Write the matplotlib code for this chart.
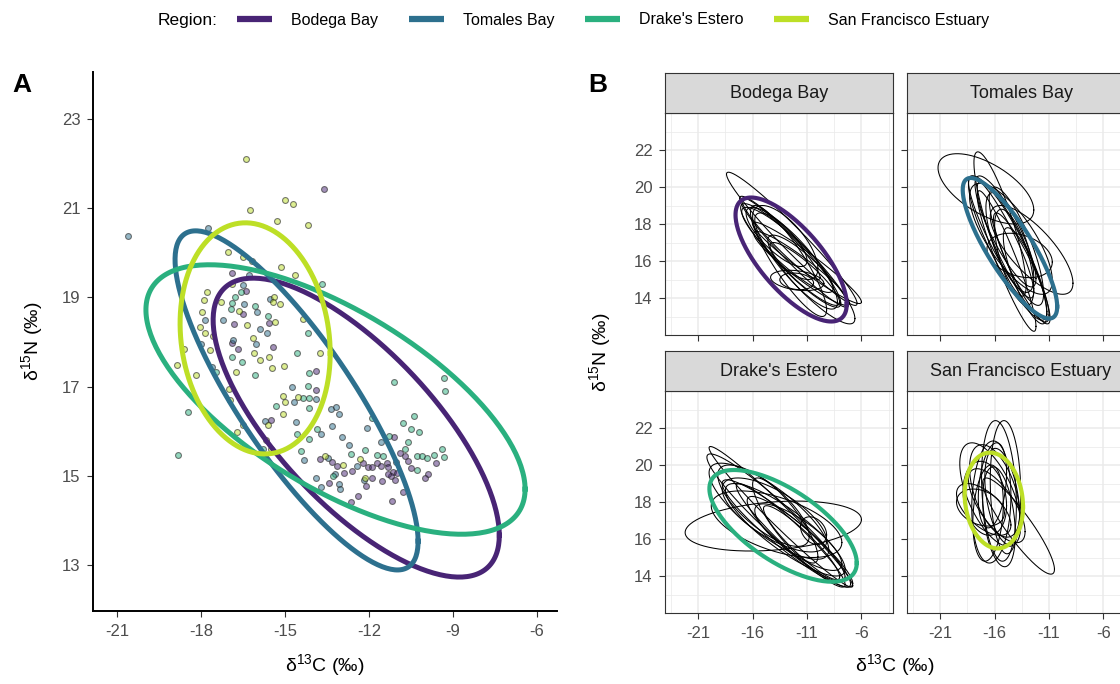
import numpy as np
import matplotlib
matplotlib.use("Agg")
import matplotlib.pyplot as plt
from matplotlib.lines import Line2D

plt.rcParams["font.family"] = ["Liberation Sans", "DejaVu Sans"]
plt.rcParams["mathtext.fontset"] = "custom"
plt.rcParams["mathtext.rm"] = "Liberation Sans"
plt.rcParams["mathtext.it"] = "Liberation Sans:italic"
plt.rcParams["axes.unicode_minus"] = False

regions = ["Bodega Bay", "Tomales Bay", "Drake's Estero", "San Francisco Estuary"]
colors = plt.cm.viridis(np.linspace(0.1, 0.9, 4))

# standard ellipses per region: centre, half-range in x and y, correlation
sea_cx = [-12.46, -14.59, -13.20, -16.07]
sea_cy = [16.08, 16.69, 16.71, 18.08]
sea_rx = [5.11, 4.34, 6.77, 2.68]
sea_ry = [3.35, 3.80, 3.02, 2.59]
sea_rho = [-0.72, -0.83, -0.665, -0.13]

# individual isotope values (d13C, d15N)
bodega_pts = [(-16.89, 19.55), (-16.39, 19.14), (-16.5, 18.63), (-16.82, 18.40), (-15.57, 18.43),
              (-16.89, 17.98), (-15.43, 17.89), (-16.68, 17.84), (-15.5, 16.25), (-13.61, 21.43),
              (-13.89, 17.35), (-13.89, 16.92), (-11.11, 15.87), (-13.75, 15.38), (-13.32, 15.31),
              (-13.14, 15.22), (-12.21, 15.29), (-12.04, 15.20), (-11.89, 15.20), (-11.71, 15.29),
              (-11.57, 15.22), (-11.36, 15.29), (-11.32, 15.20), (-10.61, 15.33), (-10.71, 15.44),
              (-9.61, 15.29), (-10.5, 15.17), (-9.89, 15.04), (-10.0, 14.95), (-11.14, 15.09),
              (-11.0, 15.06), (-11.21, 15.0), (-11.32, 15.04), (-11.07, 14.91), (-11.54, 14.88),
              (-11.89, 14.95), (-12.11, 14.77), (-12.89, 15.06), (-13.43, 14.84), (-12.64, 14.41),
              (-11.18, 14.43), (-10.79, 14.64), (-12.4, 14.55), (-10.9, 15.5), (-12.6, 15.1)]
tomales_pts = [(-20.61, 20.38), (-17.75, 20.56), (-16.5, 19.28), (-16.46, 18.85), (-15.54, 18.96),
               (-16.0, 18.67), (-17.86, 18.49), (-17.21, 18.49), (-18.0, 17.96), (-16.86, 18.04),
               (-16.04, 17.96), (-15.64, 18.20), (-17.61, 17.44), (-15.71, 16.23), (-14.75, 16.99),
               (-14.68, 16.65), (-13.89, 16.72), (-13.36, 16.50), (-13.18, 16.54), (-13.07, 16.39),
               (-14.61, 16.21), (-13.32, 16.12), (-12.07, 16.07), (-13.71, 15.94), (-12.96, 15.87),
               (-11.57, 15.76), (-12.71, 15.69), (-14.32, 15.35), (-13.46, 15.40), (-12.43, 15.22),
               (-11.04, 15.31), (-13.21, 15.04), (-13.07, 14.82), (-13.04, 14.70), (-13.89, 14.95),
               (-13.71, 14.75), (-16.3, 19.5), (-15.9, 18.3), (-12.2, 14.9)]
drakes_pts = [(-16.57, 19.12), (-16.79, 19.01), (-16.89, 18.87), (-16.07, 18.81), (-16.93, 18.74),
              (-15.61, 18.58), (-13.68, 19.30), (-16.89, 17.66), (-16.54, 17.55), (-17.46, 17.33),
              (-16.07, 17.26), (-18.46, 16.43), (-15.32, 16.56), (-15.79, 15.60), (-18.82, 15.47),
              (-14.18, 18.20), (-14.57, 17.75), (-14.14, 17.30), (-14.18, 17.01), (-14.36, 16.74),
              (-14.14, 16.74), (-14.14, 16.52), (-13.86, 16.05), (-14.57, 15.94), (-14.14, 15.83),
              (-11.11, 17.10), (-9.32, 17.19), (-9.29, 16.90), (-10.79, 16.18), (-10.39, 16.34),
              (-10.5, 16.05), (-10.21, 15.98), (-10.61, 15.76), (-10.71, 15.60), (-12.14, 15.58),
              (-14.43, 15.56), (-12.64, 15.49), (-11.71, 15.47), (-11.5, 15.44), (-10.29, 15.44),
              (-10.11, 15.44), (-9.93, 15.40), (-9.68, 15.47), (-9.39, 15.60), (-9.32, 15.42),
              (-10.29, 15.13), (-13.29, 15.0), (-11.9, 16.3), (-11.3, 15.9)]
sfe_pts = [(-16.39, 22.10), (-15.0, 21.18), (-16.25, 20.96), (-15.29, 20.71), (-17.04, 20.02),
           (-16.5, 19.9), (-16.18, 19.82), (-15.14, 19.68), (-17.79, 19.12), (-17.89, 18.94),
           (-15.39, 19.01), (-15.43, 18.9), (-15.18, 18.85), (-17.96, 18.67), (-16.64, 18.69),
           (-16.36, 18.38), (-15.36, 18.45), (-18.04, 18.34), (-14.71, 21.09), (-14.18, 20.62),
           (-14.64, 19.50), (-14.36, 18.52), (-17.86, 18.20), (-17.57, 18.13), (-18.61, 17.84),
           (-17.68, 17.82), (-16.14, 18.09), (-16.11, 17.75), (-15.89, 17.60), (-15.57, 17.66),
           (-15.04, 17.46), (-15.46, 17.42), (-18.86, 17.48), (-18.18, 17.26), (-16.75, 17.33),
           (-17.0, 16.95), (-16.96, 16.70), (-15.07, 16.79), (-15.0, 16.65), (-15.07, 16.39),
           (-15.61, 16.14), (-16.5, 16.14), (-16.71, 15.98), (-15.68, 15.80), (-15.5, 15.60),
           (-13.75, 17.75), (-14.54, 16.77), (-13.57, 15.44), (-12.93, 15.24), (-12.32, 15.38),
           (-12.14, 14.95), (-17.3, 18.9), (-16.9, 19.3)]

# posterior ellipse draws: (cx, cy, rx, ry, rho)
bodega_draws = [(-12.4, 17.2, 6.0, 3.6, -0.97), (-11.0, 15.9, 5.0, 2.2, -0.96),
                (-12.5, 16.3, 4.6, 2.8, -0.92), (-11.9, 14.95, 2.45, 0.55, -0.3),
                (-11.95, 14.9, 1.55, 0.45, -0.2), (-12.8, 16.6, 4.2, 2.3, -0.9),
                (-10.6, 15.0, 4.0, 2.4, -0.88), (-13.4, 17.2, 3.6, 2.2, -0.95),
                (-12.0, 16.0, 3.8, 2.6, -0.86), (-13.0, 17.0, 3.0, 2.0, -0.7),
                (-11.5, 15.6, 4.4, 2.0, -0.94), (-12.2, 16.5, 5.0, 3.0, -0.96),
                (-13.8, 17.3, 2.8, 1.6, -0.8), (-11.2, 15.3, 3.2, 1.7, -0.9),
                (-12.7, 16.0, 3.5, 3.0, -0.88)]
tomales_draws = [(-16.8, 19.9, 4.4, 1.9, -0.6), (-15.5, 18.0, 2.4, 3.9, -0.85),
                 (-12.6, 16.6, 3.8, 2.4, -0.75), (-14.3, 16.5, 3.3, 3.8, -0.9),
                 (-14.0, 16.8, 2.5, 3.2, -0.8), (-14.6, 17.0, 2.2, 2.7, -0.7),
                 (-13.7, 16.3, 3.0, 1.2, -0.3), (-14.8, 16.7, 3.6, 3.9, -0.88),
                 (-15.0, 17.6, 2.8, 3.0, -0.85), (-13.5, 15.6, 2.6, 3.0, -0.9),
                 (-14.2, 16.2, 1.8, 2.6, -0.65), (-15.4, 17.3, 3.0, 3.3, -0.9),
                 (-13.2, 15.2, 2.0, 2.6, -0.8), (-14.5, 17.2, 3.8, 3.0, -0.75),
                 (-14.9, 16.0, 2.7, 3.8, -0.93)]
drakes_draws = [(-14.1, 16.7, 8.1, 1.35, 0.26), (-13.4, 17.2, 6.6, 3.8, -0.98),
                (-13.6, 17.0, 6.6, 3.6, -0.95), (-10.4, 16.45, 1.2, 0.75, -0.3),
                (-13.0, 16.5, 5.5, 2.5, -0.85), (-12.0, 16.0, 4.5, 2.3, -0.9),
                (-14.0, 17.3, 4.8, 2.0, -0.7), (-12.5, 16.2, 5.0, 2.8, -0.95),
                (-14.5, 17.5, 5.5, 2.6, -0.8), (-11.5, 15.8, 3.5, 2.0, -0.92),
                (-13.0, 17.0, 3.0, 2.3, -0.85), (-12.8, 16.3, 6.0, 2.9, -0.93),
                (-15.0, 17.8, 4.2, 2.2, -0.75), (-11.8, 16.1, 4.0, 1.8, -0.8),
                (-13.8, 16.8, 6.0, 1.8, -0.55)]
sfe_draws = [(-15.6, 18.6, 1.6, 3.8, -0.2), (-15.0, 18.8, 1.4, 3.6, -0.1),
             (-13.8, 16.7, 3.3, 2.6, -0.9), (-17.3, 17.7, 2.2, 1.0, -0.3),
             (-16.3, 18.0, 1.8, 3.3, 0.1), (-16.0, 18.6, 2.3, 2.5, -0.5),
             (-15.3, 18.3, 1.6, 2.6, -0.4), (-16.9, 18.2, 2.0, 2.0, -0.2),
             (-16.6, 17.4, 1.4, 2.6, 0.2), (-15.8, 17.8, 2.6, 2.0, -0.7),
             (-16.2, 18.9, 1.3, 2.3, 0.3), (-17.0, 17.6, 2.5, 1.4, -0.6),
             (-15.6, 17.2, 1.5, 2.7, -0.35), (-16.4, 18.4, 2.8, 2.8, -0.6)]

points = [bodega_pts, tomales_pts, drakes_pts, sfe_pts]
draws = [bodega_draws, tomales_draws, drakes_draws, sfe_draws]

a_xticks = [-21, -18, -15, -12, -9, -6]
a_yticks = [13, 15, 17, 19, 21, 23]
b_xticks = [-21, -16, -11, -6]
b_yticks = [14, 16, 18, 20, 22]

TICK_GRAY = "#4D4D4D"


def ellipse_xy(cx, cy, rx, ry, rho, n=240):
    t = np.linspace(0, 2 * np.pi, n)
    x = cx + rx * np.cos(t)
    y = cy + ry * (rho * np.cos(t) + np.sqrt(1 - rho ** 2) * np.sin(t))
    return x, y


fig = plt.figure(figsize=(11.2, 6.84), dpi=100)

# ---- panel A: all regions together
ax = fig.add_axes([93 / 1120, 1 - 611 / 684, 464 / 1120, 539 / 684])
for i, pts in enumerate(points):
    xs, ys = zip(*pts)
    fc = colors[i].copy()
    fc[3] = 0.5
    ax.scatter(xs, ys, s=18, facecolor=fc, edgecolor=(0.15, 0.15, 0.15, 0.6),
               linewidth=0.8, zorder=2)
for i in range(4):
    ex, ey = ellipse_xy(sea_cx[i], sea_cy[i], sea_rx[i], sea_ry[i], sea_rho[i])
    ax.plot(ex, ey, color=colors[i], lw=3.6, zorder=3)
ax.set_xlim(-21.86, -5.29)
ax.set_ylim(11.97, 24.05)
ax.set_xticks(a_xticks)
ax.set_yticks(a_yticks)
for s in ["top", "right"]:
    ax.spines[s].set_visible(False)
for s in ["left", "bottom"]:
    ax.spines[s].set_linewidth(1.4)
ax.tick_params(length=4, width=0.8, color="#333333", labelcolor=TICK_GRAY, labelsize=12, pad=5)
ax.set_xlabel("δ$^{13}$C (‰)", fontsize=14, labelpad=10)
ax.set_ylabel("δ$^{15}$N (‰)", fontsize=14, labelpad=12)

# ---- panel B: one facet per region
fw, fh = 228 / 1120, 222 / 684
strip_h = 40 / 684
lefts = [665 / 1120, 907 / 1120]
bottoms = [1 - 335 / 684, 1 - 613 / 684]
for i in range(4):
    r, c = divmod(i, 2)
    fax = fig.add_axes([lefts[c], bottoms[r], fw, fh])
    fax.set_xlim(-24.05, -3.1)
    fax.set_ylim(12, 24)
    fax.set_xticks(b_xticks)
    fax.set_xticks([-23.5, -18.5, -13.5, -8.5, -3.5], minor=True)
    fax.set_yticks(b_yticks)
    fax.set_yticks([13, 15, 17, 19, 21, 23], minor=True)
    fax.grid(which="major", color="#EBEBEB", lw=1.1)
    fax.grid(which="minor", color="#EBEBEB", lw=0.55)
    fax.set_axisbelow(True)
    for s in fax.spines.values():
        s.set_color("#333333")
        s.set_linewidth(0.8)
    fax.tick_params(which="major", length=4, width=0.8, color="#333333",
                    labelcolor=TICK_GRAY, labelsize=12, pad=5)
    fax.tick_params(which="minor", length=0)
    if c == 1:
        fax.tick_params(labelleft=False)
    if r == 0:
        fax.tick_params(labelbottom=False)
    for d in draws[i]:
        ex, ey = ellipse_xy(*d)
        fax.plot(ex, ey, color="black", lw=0.75, zorder=2)
    ex, ey = ellipse_xy(sea_cx[i], sea_cy[i], sea_rx[i], sea_ry[i], sea_rho[i])
    fax.plot(ex, ey, color=colors[i], lw=3.0, zorder=3)

    sax = fig.add_axes([lefts[c], bottoms[r] + fh, fw, strip_h])
    sax.set_facecolor("#D9D9D9")
    sax.set_xticks([])
    sax.set_yticks([])
    for s in sax.spines.values():
        s.set_color("#333333")
        s.set_linewidth(0.8)
    sax.text(0.5, 0.5, regions[i], ha="center", va="center", fontsize=13,
             color="#1A1A1A", transform=sax.transAxes)

fig.text(895 / 1120, 1 - 665 / 684, "δ$^{13}$C (‰)", ha="center", va="center", fontsize=14)
fig.text(600 / 1120, 1 - 352 / 684, "δ$^{15}$N (‰)", ha="center", va="center",
         fontsize=14, rotation=90)

# panel tags
fig.text(22 / 1120, 1 - 85 / 684, "A", fontsize=19, fontweight="bold", ha="center", va="center")
fig.text(598 / 1120, 1 - 85 / 684, "B", fontsize=19, fontweight="bold", ha="center", va="center")

# shared legend on top
handles = [Line2D([], [], color=colors[i], lw=4.5, solid_capstyle="butt") for i in range(4)]
fig.text(218 / 1120, 1 - 20 / 684, "Region:", ha="right", va="center", fontsize=12.5)
fig.legend(handles, regions, loc="center left", bbox_to_anchor=(237 / 1120, 1 - 20 / 684),
           ncol=4, frameon=False, fontsize=11.5, handlelength=2.2, handletextpad=1.2,
           columnspacing=1.9, borderpad=0, borderaxespad=0)

fig.savefig("out.png", dpi=100)
